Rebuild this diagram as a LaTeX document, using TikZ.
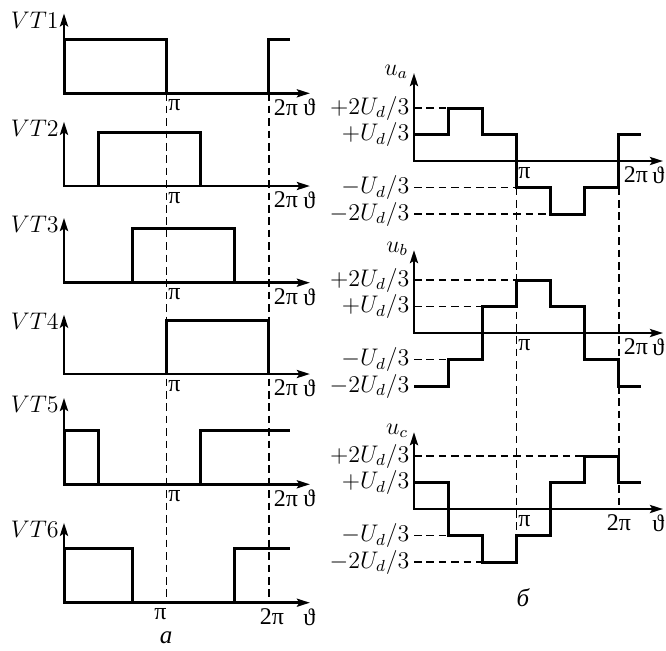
\documentclass[tikz,border=0pt]{standalone}
\usepackage{fontspec}
\usetikzlibrary{arrows.meta}
\newfontfamily\cyrfont{Liberation Serif}

\tikzset{
  wave/.style={line width=1.5pt, line join=miter},
  axes/.style={line width=1.3pt, line join=miter,
    {Stealth[length=6.5pt,width=4pt,inset=1.2pt]}-{Stealth[length=6.5pt,width=4pt,inset=1.2pt]}},
  guide/.style={line width=0.9pt, dash pattern=on 3.8pt off 2.4pt},
  txt/.style={font=\fontsize{11.5}{13}\selectfont, inner sep=0.8pt},
  grk/.style={font=\cyrfont\fontsize{12}{14}\selectfont, inner sep=0.8pt},
  % one panel of the left column (gate signals)
  gate/.style={shift={(64,#1)}, x=17.08pt, y=27pt},
  % one panel of the right column (phase voltages)
  phase/.style={shift={(414,#1)}, x=17.08pt, y=13.25pt},
}

\begin{document}
\begin{tikzpicture}[x=0.5pt, y=-0.5pt]
  \useasboundingbox (0,0) rectangle (666,650);

  % gate signals VT1 ... VT6
  \foreach \n/\base/\tip/\sig in {
    1/93.3/1.48/{(0,0) -- (0,1) -- (3,1) -- (3,0) (6,0) -- (6,1) -- (6.61,1)},
    2/186/1.19/{(1,0) -- (1,1) -- (4,1) -- (4,0)},
    3/282.7/1.2/{(2,0) -- (2,1) -- (5,1) -- (5,0)},
    4/374/1.1/{(3,0) -- (3,1) -- (6,1) -- (6,0)},
    5/484.3/1.6/{(0,0) -- (0,1) -- (1,1) -- (1,0) (4,0) -- (4,1) -- (6.61,1)},
    6/602.7/1.48/{(0,0) -- (0,1) -- (2,1) -- (2,0) (5,0) -- (5,1) -- (6.61,1)}}
  {
    \begin{scope}[gate=\base]
      \draw[axes] (0,\tip) -- (0,0) -- (7.2,0);
      \draw[wave] \sig;
      \node[txt, anchor=east] (vt\n) at (-0.1,\tip-0.12) {$VT\n$};
      \coordinate (g\n p) at (3,0);
      \coordinate (g\n q) at (6,0);
      \node[grk, anchor=north, yshift=-2pt] (th\n) at (7.18,0) {ϑ};
      \ifnum\n<6
        \node[grk, anchor=north west, yshift=-2pt] (pi\n) at (g\n p) {π};
        \node[grk, anchor=north west, yshift=-2pt, xshift=1.5pt] (tp\n) at (g\n q) {2π};
      \else
        \node[grk, anchor=north, yshift=-2pt, xshift=-3pt] (pi\n) at (g\n p) {π};
        \node[grk, anchor=north, yshift=-2pt, xshift=1.5pt] (tp\n) at (g\n q) {2π};
      \fi
    \end{scope}
  }

  \draw[guide] (g1p) -- (g6p);
  \draw[guide] (g1q) -- (g6q);

  % phase voltages u_a, u_b, u_c
  \foreach \ph/\base/\tip/\sig/\dsh in {
    a/161/3.32/{(0,1) -- (1,1) -- (1,2) -- (2,2) -- (2,1) -- (3,1) -- (3,-1) -- (4,-1)
      -- (4,-2) -- (5,-2) -- (5,-1) -- (6,-1) -- (6,1) -- (6.64,1)}/{(0,2) -- (1,2) (0,-1) -- (3,-1) (0,-2) -- (4,-2)},
    b/333/3.13/{(0,-2) -- (1,-2) -- (1,-1) -- (2,-1) -- (2,1) -- (3,1) -- (3,2) -- (4,2)
      -- (4,1) -- (5,1) -- (5,-1) -- (6,-1) -- (6,-2) -- (6.64,-2)}/{(0,2) -- (3,2) (0,1) -- (2,1) (0,-1) -- (1,-1)},
    c/509/2.9/{(0,1) -- (1,1) -- (1,-1) -- (2,-1) -- (2,-2) -- (3,-2) -- (3,-1) -- (4,-1)
      -- (4,1) -- (5,1) -- (5,2) -- (6,2) -- (6,1) -- (6.64,1)}/{(0,2) -- (5,2) (0,-1) -- (1,-1) (0,-2) -- (2,-2)}}
  {
    \begin{scope}[phase=\base]
      \draw[guide] \dsh;
      \draw[axes] (0,\tip) -- (0,0) -- (7.29,0);
      \draw[wave] \sig;
      \node[txt, anchor=east] (u\ph) at (-0.12,\tip+0.05) {$u_\ph$};
      \foreach \lv/\tx in {2/{+2U_d/3}, 1/{+U_d/3}, -1/{-U_d/3}, -2/{-2U_d/3}}
        \node[txt, anchor=east] (l\ph\lv) at (-0.08,\lv) {$\tx$};
      \coordinate (r\ph p) at (3,-1);
      \coordinate (r\ph q) at (6,-1);
      \coordinate (r\ph z) at (6,0);
      \node[grk, anchor=north west, yshift=-2pt] (pi\ph) at (3,0) {π};
      \node[grk, anchor=north, yshift=-2pt] (th\ph) at (7.15,0) {ϑ};
      \if\ph c
        \node[grk, anchor=north, yshift=-2pt] (tp\ph) at (6,0) {2π};
      \else
        \node[grk, anchor=north west, yshift=-2pt, xshift=1.5pt] (tp\ph) at (6,0) {2π};
      \fi
    \end{scope}
  }

  \draw[guide] (rap) -- (rcp);
  \draw[guide] (raq) -- (rcz);

  \node[inner sep=0pt] (capa) at (166,638) {\cyrfont\itshape\fontsize{12.5}{14}\selectfont а};
  \node[inner sep=0pt] (capb) at (523,598) {\cyrfont\itshape\fontsize{12.5}{14}\selectfont б};
\end{tikzpicture}
\end{document}
